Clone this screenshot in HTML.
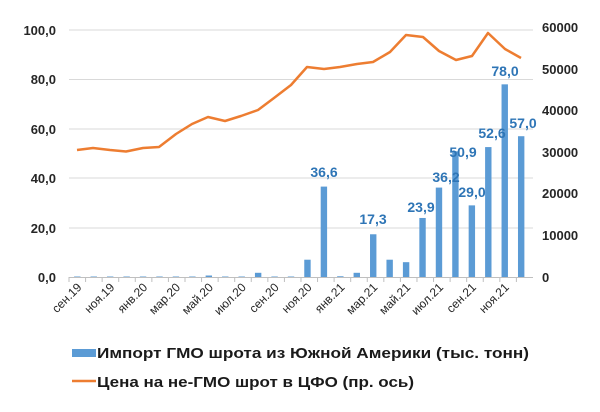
<!DOCTYPE html>
<html><head><meta charset="utf-8"><style>
html,body{margin:0;padding:0;background:#fff;}
svg{display:block;font-family:"Liberation Sans",sans-serif;}
</style></head><body>
<svg width="600" height="412" viewBox="0 0 600 412" xmlns="http://www.w3.org/2000/svg">
<g stroke="#d9d9d9" stroke-width="1">
<line x1="69" y1="30" x2="533" y2="30"/>
<line x1="69" y1="79.5" x2="533" y2="79.5"/>
<line x1="69" y1="129" x2="533" y2="129"/>
<line x1="69" y1="178" x2="533" y2="178"/>
<line x1="69" y1="228" x2="533" y2="228"/>
</g>
<line x1="69" y1="277.5" x2="533" y2="277.5" stroke="#bfbfbf"/>
<g id="ticks" stroke="#bfbfbf"></g>
<g font-size="13" font-weight="bold" fill="#262626" text-anchor="end">
<text x="56" y="35">100,0</text>
<text x="56" y="84">80,0</text>
<text x="56" y="134">60,0</text>
<text x="56" y="183">40,0</text>
<text x="56" y="233">20,0</text>
<text x="56" y="282">0,0</text>
</g>
<g font-size="13" font-weight="bold" fill="#262626" text-anchor="start">
<text x="542" y="32">60000</text>
<text x="542" y="74">50000</text>
<text x="542" y="115">40000</text>
<text x="542" y="157">30000</text>
<text x="542" y="198">20000</text>
<text x="542" y="240">10000</text>
<text x="542" y="282">0</text>
</g>
<g id="bars" fill="#5b9bd5"></g>
<g id="xl" font-size="12" fill="#262626" text-anchor="end"></g>
<polyline fill="none" stroke="#ed7d31" stroke-width="2.5" stroke-linejoin="round" points="77,150 93,148 110,150 126,151.5 143,148 159,147 176,134 192,124 208,117 225,121 241,116 258,110 274,98 291,85 307,67 324,69 340,67 357,64 373,62 390,52 406,35 423,37 439,51 456,60 472,56 488,33 505,49 521,58"/>
<g font-size="14" font-weight="bold" fill="#2e75b6" text-anchor="middle">
<text x="324" y="177">36,6</text>
<text x="373" y="224">17,3</text>
<text x="421" y="212">23,9</text>
<text x="446" y="182">36,2</text>
<text x="463" y="157">50,9</text>
<text x="472" y="197">29,0</text>
<text x="492" y="138">52,6</text>
<text x="505" y="76">78,0</text>
<text x="523" y="128">57,0</text>
</g>
<rect x="72" y="349" width="24" height="8" fill="#5b9bd5"/>
<line x1="72" y1="381" x2="96" y2="381" stroke="#ed7d31" stroke-width="2.5"/>
<g font-size="15" font-weight="bold" fill="#1a1a1a">
<text x="97" y="358" textLength="432" lengthAdjust="spacingAndGlyphs">Импорт ГМО шрота из Южной Америки (тыс. тонн)</text>
<text x="97" y="387" textLength="317" lengthAdjust="spacingAndGlyphs">Цена на не-ГМО шрот в ЦФО (пр. ось)</text>
</g>
<script>
var vals=[0.2,0.2,0.2,0.2,0.2,0.2,0.2,0.2,0.6,0.2,0.2,1.7,0.2,0.2,7,36.6,0.3,1.7,17.3,7,6,23.9,36.2,50.9,29.0,52.6,78.0,57.0];
var ns="http://www.w3.org/2000/svg";
var b=document.getElementById("bars"),t=document.getElementById("ticks"),xl=document.getElementById("xl");
var lab=["сен.19","ноя.19","янв.20","мар.20","май.20","июл.20","сен.20","ноя.20","янв.21","мар.21","май.21","июл.21","сен.21","ноя.21"];
for(var i=0;i<28;i++){
 var cx=77.3+i*16.44,h=vals[i]*2.47;
 var r=document.createElementNS(ns,"rect");
 r.setAttribute("x",cx-3.2);r.setAttribute("width",6.4);r.setAttribute("y",277-h);r.setAttribute("height",h);b.appendChild(r);
 var l=document.createElementNS(ns,"line");var tx=69+i*16.57;
 l.setAttribute("x1",tx);l.setAttribute("x2",tx);l.setAttribute("y1",277);l.setAttribute("y2",282);t.appendChild(l);
}
for(var k=0;k<14;k++){
 var cx=77.3+2*k*16.44+5,y=288;
 var e=document.createElementNS(ns,"text");
 e.setAttribute("x",cx);e.setAttribute("y",y);e.setAttribute("transform","rotate(-45 "+cx+" "+y+")");
 e.textContent=lab[k];xl.appendChild(e);
}
</script>
</svg>
</body></html>
